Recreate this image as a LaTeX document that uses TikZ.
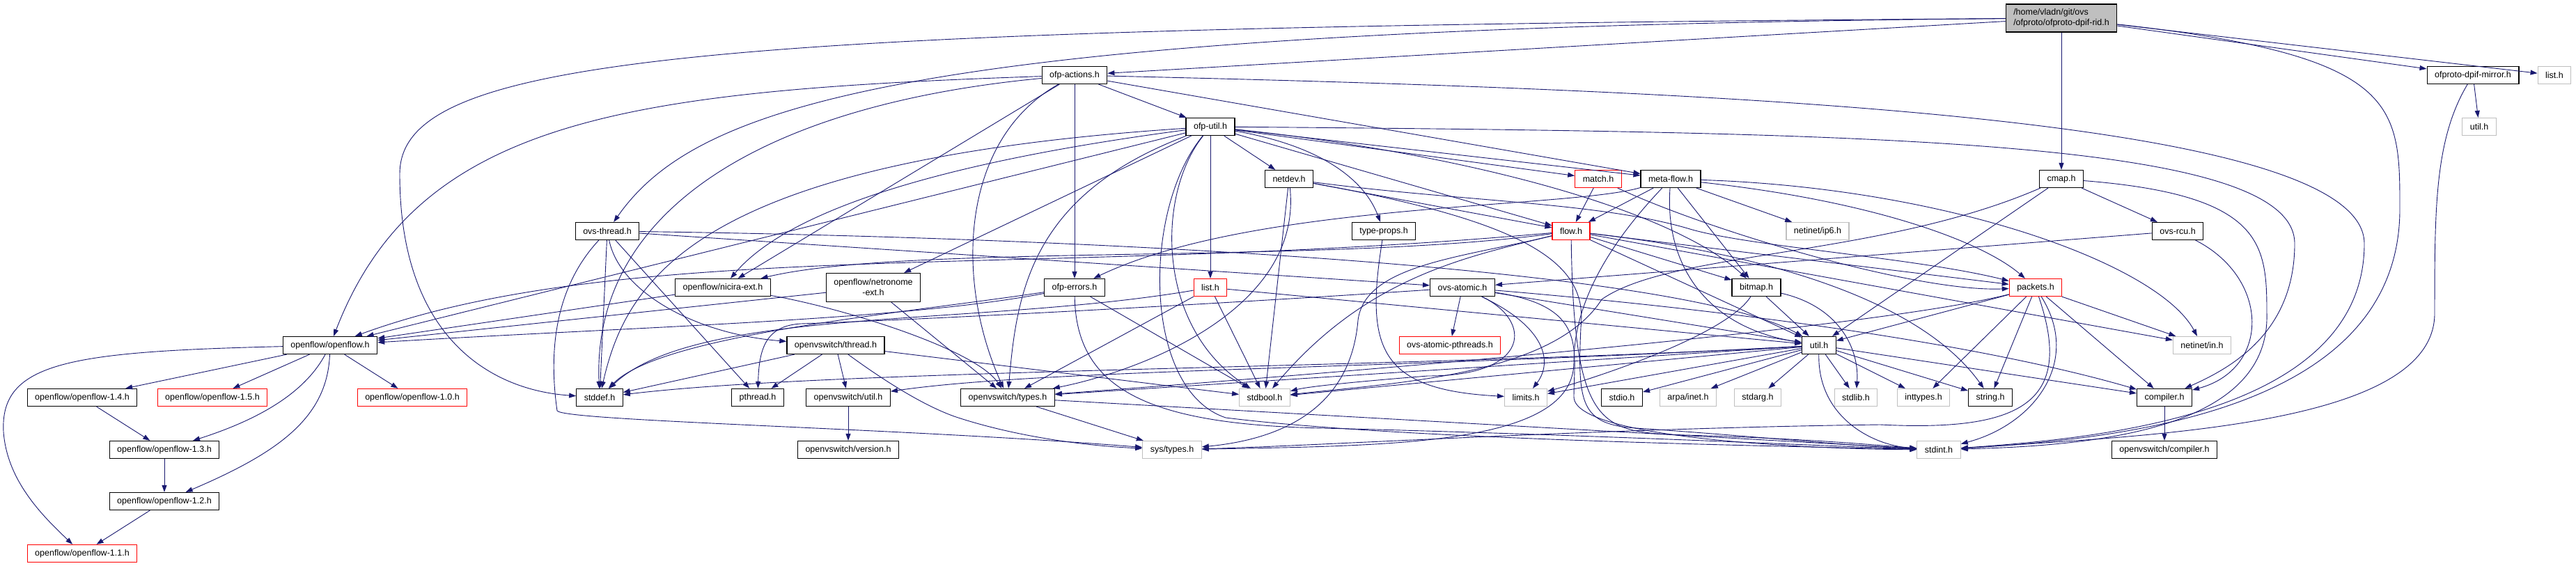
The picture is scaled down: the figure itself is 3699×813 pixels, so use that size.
\documentclass[tikz,border=0pt]{standalone}
\usepackage{fontspec}
\setmainfont{Liberation Sans}
\usepackage{tikz}
\usepackage{xcolor}
\usetikzlibrary{arrows.meta}
\definecolor{incblue}{RGB}{25, 25, 112}
\definecolor{sysgray}{RGB}{191, 191, 191}

\begin{document}
\begin{tikzpicture}[
    x=1pt, y=-1pt,
    font=\fontsize{12.5}{15}\selectfont,
    hdr/.style={draw=#1, fill=white, line width=1.2pt, minimum height=25pt, inner xsep=11pt, inner ysep=1pt},
    hdr/.default=black,
    inc/.style={draw=incblue, line width=0.9pt, -{Triangle[length=10pt, width=7pt]}}
]

    \useasboundingbox (0,0) rectangle (3699,813);
    \fill[white] (0,0) rectangle (3699,813);

    % ==========================================
    % HEADERS (rows from top to bottom)
    % ==========================================
    % The file itself
    \node[hdr, fill=sysgray, align=left, minimum height=40pt] (rid) at (2960,26) {/home/vladn/git/ovs\\/ofproto/ofproto-dpif-rid.h};

    % Row 1
    \node[hdr] (ofp_act) at (1543,108) {ofp-actions.h};
    \node[hdr] (dpif_mirror) at (3551,108) {ofproto-dpif-mirror.h};
    \node[hdr=sysgray] (sys_list) at (3668,108) {list.h};

    % Row 2
    \node[hdr] (ofp_util) at (1738,182) {ofp-util.h};
    \node[hdr=sysgray] (sys_util) at (3560,182) {util.h};

    % Row 3
    \node[hdr] (netdev) at (1851,257) {netdev.h};
    \node[hdr=red] (match) at (2295,257) {match.h};
    \node[hdr] (meta_flow) at (2399,257) {meta-flow.h};
    \node[hdr] (cmap) at (2960,257) {cmap.h};

    % Row 4
    \node[hdr] (ovs_thread) at (872,332) {ovs-thread.h};
    \node[hdr] (type_props) at (1987,332) {type-props.h};
    \node[hdr=red] (flow) at (2256,332) {flow.h};
    \node[hdr=sysgray] (ip6) at (2610,332) {netinet/ip6.h};
    \node[hdr] (ovs_rcu) at (3127,332) {ovs-rcu.h};

    % Row 5
    \node[hdr] (nx_ext) at (1038,413) {openflow/nicira-ext.h};
    \node[hdr, align=center, minimum height=41pt] (ntr_ext) at (1254,413) {openflow/netronome\\-ext.h};
    \node[hdr] (ofp_err) at (1543,413) {ofp-errors.h};
    \node[hdr=red] (list) at (1738,413) {list.h};
    \node[hdr] (atomic) at (2100,413) {ovs-atomic.h};
    \node[hdr] (bitmap) at (2522,413) {bitmap.h};
    \node[hdr=red] (packets) at (2923,413) {packets.h};

    % Row 6
    \node[hdr] (of) at (474,496) {openflow/openflow.h};
    \node[hdr] (ovs_thr) at (1200,496) {openvswitch/thread.h};
    \node[hdr=red] (atomic_pth) at (2082,496) {ovs-atomic-pthreads.h};
    \node[hdr] (util) at (2612,496) {util.h};
    \node[hdr=sysgray] (in_h) at (3162,496) {netinet/in.h};

    % Row 7
    \node[hdr] (of_14) at (118,571) {openflow/openflow-1.4.h};
    \node[hdr=red] (of_15) at (305,571) {openflow/openflow-1.5.h};
    \node[hdr=red] (of_10) at (592,571) {openflow/openflow-1.0.h};
    \node[hdr] (stddef) at (861,571) {stddef.h};
    \node[hdr] (pthread) at (1088,571) {pthread.h};
    \node[hdr] (ovs_util) at (1218,571) {openvswitch/util.h};
    \node[hdr] (ovs_types) at (1447,571) {openvswitch/types.h};
    \node[hdr=sysgray] (stdbool) at (1816,571) {stdbool.h};
    \node[hdr=sysgray] (limits) at (2191,571) {limits.h};
    \node[hdr] (stdio) at (2329,571) {stdio.h};
    \node[hdr=sysgray] (arpa) at (2424,571) {arpa/inet.h};
    \node[hdr=sysgray] (stdarg) at (2524,571) {stdarg.h};
    \node[hdr=sysgray] (stdlib) at (2665,571) {stdlib.h};
    \node[hdr=sysgray] (inttypes) at (2762,571) {inttypes.h};
    \node[hdr] (string_h) at (2858,571) {string.h};
    \node[hdr] (compiler) at (3108,571) {compiler.h};

    % Row 8
    \node[hdr] (of_13) at (236,646) {openflow/openflow-1.3.h};
    \node[hdr] (ovs_ver) at (1218,646) {openvswitch/version.h};
    \node[hdr=sysgray] (sys_types) at (1683,646) {sys/types.h};
    \node[hdr=sysgray] (stdint) at (2784,646) {stdint.h};
    \node[hdr] (ovs_comp) at (3108,646) {openvswitch/compiler.h};

    % Rows 9 and 10
    \node[hdr] (of_12) at (236,720) {openflow/openflow-1.2.h};
    \node[hdr=red] (of_11) at (118,795) {openflow/openflow-1.1.h};


    % ==========================================
    % INCLUDES OF THE FILE ITSELF
    % ==========================================
    \draw[inc] (rid) -- (ofp_act);
    \draw[inc] (rid) .. controls (1300,40) and (1000,150) .. (ovs_thread);
    \draw[inc] (rid) .. controls (1000,40) and (574,80) .. (574,250) .. controls (574,480) and (700,560) .. (stddef);
    \draw[inc] (rid) -- (cmap);
    \draw[inc] (rid) -- (dpif_mirror);
    \draw[inc] (rid) -- (sys_list);
    \draw[inc] (rid) .. controls (3446,80) and (3446,150) .. (3446,300) .. controls (3446,590) and (3050,630) .. (stdint);

    % ofproto-dpif-mirror.h
    \draw[inc] (dpif_mirror) -- (sys_util);
    \draw[inc] (dpif_mirror) .. controls (3496,200) and (3496,300) .. (3496,450) .. controls (3496,610) and (3100,625) .. (stdint);


    % ==========================================
    % OFP-ACTIONS.H AND OFP-UTIL.H
    % ==========================================
    \draw[inc] (ofp_act) -- (ofp_util);
    \draw[inc] (ofp_act) -- (ofp_err);
    \draw[inc] (ofp_act) -- (nx_ext);
    \draw[inc] (ofp_act) -- (meta_flow);
    \draw[inc] (ofp_act) .. controls (900,130) and (600,170) .. (of);
    \draw[inc] (ofp_act) .. controls (1100,150) and (850,300) .. (stddef);
    \draw[inc] (ofp_act) .. controls (1380,200) and (1370,400) .. (ovs_types);
    \draw[inc] (ofp_act) .. controls (2500,130) and (3395,170) .. (3395,350) .. controls (3395,600) and (3000,630) .. (stdint);

    \draw[inc] (ofp_util) -- (netdev);
    \draw[inc] (ofp_util) -- (match);
    \draw[inc] (ofp_util) -- (meta_flow);
    \draw[inc] (ofp_util) -- (flow);
    \draw[inc] (ofp_util) -- (list);
    \draw[inc] (ofp_util) -- (ntr_ext);
    \draw[inc] (ofp_util) -- (of);
    \draw[inc] (ofp_util) .. controls (1900,210) and (1960,260) .. (type_props);
    \draw[inc] (ofp_util) .. controls (2100,220) and (2400,300) .. (bitmap);
    \draw[inc] (ofp_util) .. controls (2700,190) and (3295,200) .. (3295,350) .. controls (3295,480) and (3200,530) .. (compiler);
    \draw[inc] (ofp_util) .. controls (1000,230) and (900,400) .. (stddef);
    \draw[inc] (ofp_util) .. controls (1450,220) and (1150,280) .. (nx_ext);
    \draw[inc] (ofp_util) .. controls (1480,280) and (1460,420) .. (ovs_types);
    \draw[inc] (ofp_util) .. controls (1660,280) and (1660,470) .. (stdbool);
    \draw[inc] (ofp_util) .. controls (1640,300) and (1640,560) .. (1760,600) .. controls (2000,630) and (2500,640) .. (stdint);


    % ==========================================
    % NETDEV.H, MATCH.H, META-FLOW.H
    % ==========================================
    \draw[inc] (netdev) -- (flow);
    \draw[inc] (netdev) -- (stdbool);
    \draw[inc] (netdev) .. controls (2100,290) and (2300,290) .. (2430,330) .. controls (2520,355) and (2750,370) .. (packets);
    \draw[inc] (netdev) .. controls (1870,440) and (1650,530) .. (ovs_types);
    \draw[inc] (netdev) .. controls (2200,320) and (2280,380) .. (2270,470) .. controls (2265,580) and (2270,610) .. (2350,615) .. controls (2500,625) and (2650,640) .. (stdint);

    \draw[inc] (match) -- (flow);
    \draw[inc] (match) .. controls (2450,330) and (2750,420) .. (packets);

    \draw[inc] (meta_flow) -- (flow);
    \draw[inc] (meta_flow) -- (ip6);
    \draw[inc] (meta_flow) -- (bitmap);
    \draw[inc] (meta_flow) .. controls (2250,300) and (1800,290) .. (ofp_err);
    \draw[inc] (meta_flow) .. controls (2390,380) and (2450,470) .. (util);
    \draw[inc] (meta_flow) .. controls (2700,290) and (2850,350) .. (packets);
    \draw[inc] (meta_flow) .. controls (2800,270) and (3100,380) .. (in_h);
    \draw[inc] (meta_flow) .. controls (2330,330) and (2260,420) .. (2260,520) .. controls (2260,640) and (2000,640) .. (sys_types);


    % ==========================================
    % FLOW.H AND TYPE-PROPS.H
    % ==========================================
    \draw[inc] (flow) -- (bitmap);
    \draw[inc] (flow) -- (packets);
    \draw[inc] (flow) -- (in_h);
    \draw[inc] (flow) -- (util);
    \draw[inc] (flow) .. controls (1900,380) and (1300,350) .. (nx_ext);
    \draw[inc] (flow) .. controls (1500,400) and (900,340) .. (of);
    \draw[inc] (flow) .. controls (2100,370) and (1960,380) .. (1950,460) .. controls (1940,580) and (1850,630) .. (sys_types);
    \draw[inc] (flow) .. controls (2100,370) and (1960,400) .. (stdbool);
    \draw[inc] (flow) .. controls (2260,620) and (2300,620) .. (2420,625) .. controls (2600,630) and (2700,640) .. (stdint);
    \draw[inc] (flow) .. controls (2500,360) and (2750,420) .. (string_h);

    \draw[inc] (type_props) .. controls (1960,500) and (1980,560) .. (limits);


    % ==========================================
    % THREADS
    % ==========================================
    \draw[inc] (ovs_thread) -- (stddef);
    \draw[inc] (ovs_thread) -- (pthread);
    \draw[inc] (ovs_thread) -- (atomic);
    \draw[inc] (ovs_thread) .. controls (890,420) and (1000,480) .. (ovs_thr);
    \draw[inc] (ovs_thread) .. controls (1500,340) and (2400,380) .. (util);
    \draw[inc] (ovs_thread) .. controls (790,420) and (790,520) .. (800,590) .. controls (810,605) and (1300,615) .. (sys_types);

    \draw[inc] (ovs_thr) -- (stddef);
    \draw[inc] (ovs_thr) -- (pthread);
    \draw[inc] (ovs_thr) -- (ovs_util);
    \draw[inc] (ovs_thr) -- (stdbool);
    \draw[inc] (ovs_thr) .. controls (1260,540) and (1320,580) .. (1370,598) .. controls (1450,625) and (1550,640) .. (sys_types);


    % ==========================================
    % OPENFLOW EXTENSIONS, ERRORS, LISTS
    % ==========================================
    \draw[inc] (nx_ext) -- (of);
    \draw[inc] (nx_ext) .. controls (1200,440) and (1400,500) .. (ovs_types);
    \draw[inc] (ntr_ext) -- (of);
    \draw[inc] (ntr_ext) -- (ovs_types);

    \draw[inc] (ofp_err) .. controls (1300,460) and (900,470) .. (of);
    \draw[inc] (ofp_err) .. controls (1300,450) and (950,480) .. (stddef);
    \draw[inc] (ofp_err) -- (stdbool);
    \draw[inc] (ofp_err) .. controls (1545,560) and (1650,610) .. (1900,615) .. controls (2300,625) and (2600,640) .. (stdint);

    \draw[inc] (list) -- (stdbool);
    \draw[inc] (list) -- (util);
    \draw[inc] (list) -- (ovs_types);
    \draw[inc] (list) .. controls (1400,470) and (1000,440) .. (stddef);


    % ==========================================
    % OVS-ATOMIC.H, BITMAP.H
    % ==========================================
    \draw[inc] (atomic) -- (atomic_pth);
    \draw[inc] (atomic) -- (util);
    \draw[inc] (atomic) .. controls (1700,440) and (1300,460) .. (1150,465) .. controls (1100,468) and (1090,500) .. (pthread);
    \draw[inc] (atomic) .. controls (2200,460) and (2200,540) .. (2050,540) .. controls (1950,548) and (1880,555) .. (stdbool);
    \draw[inc] (atomic) .. controls (2220,470) and (2230,520) .. (limits);
    \draw[inc] (atomic) .. controls (2600,455) and (2900,510) .. (compiler);
    \draw[inc] (atomic) .. controls (2280,440) and (2260,500) .. (2260,570) .. controls (2260,630) and (2600,645) .. (stdint);

    \draw[inc] (bitmap) -- (util);
    \draw[inc] (bitmap) .. controls (2640,440) and (2670,500) .. (stdlib);
    \draw[inc] (bitmap) .. controls (2480,480) and (2300,540) .. (limits);


    % ==========================================
    % UTIL.H AND PACKETS.H
    % ==========================================
    \draw[inc] (util) -- (limits);
    \draw[inc] (util) -- (stdio);
    \draw[inc] (util) -- (arpa);
    \draw[inc] (util) -- (stdarg);
    \draw[inc] (util) -- (stdlib);
    \draw[inc] (util) -- (inttypes);
    \draw[inc] (util) -- (string_h);
    \draw[inc] (util) -- (compiler);
    \draw[inc] (util) -- (stdbool);
    \draw[inc] (util) -- (ovs_types);
    \draw[inc] (util) .. controls (2000,530) and (1200,530) .. (stddef);
    \draw[inc] (util) .. controls (2000,530) and (1500,530) .. (ovs_util);
    \draw[inc] (util) .. controls (2610,600) and (2690,640) .. (stdint);

    \draw[inc] (packets) -- (inttypes);
    \draw[inc] (packets) -- (string_h);
    \draw[inc] (packets) -- (compiler);
    \draw[inc] (packets) -- (in_h);
    \draw[inc] (packets) -- (util);
    \draw[inc] (packets) .. controls (2700,470) and (2000,530) .. (ovs_types);
    \draw[inc] (packets) .. controls (2990,520) and (2920,610) .. (stdint);
    \draw[inc] (packets) .. controls (2980,580) and (2900,620) .. (2700,610) .. controls (2300,615) and (1900,640) .. (sys_types);


    % ==========================================
    % CMAP.H, OVS-RCU.H
    % ==========================================
    \draw[inc] (cmap) -- (ovs_rcu);
    \draw[inc] (cmap) -- (util);
    \draw[inc] (cmap) .. controls (2700,370) and (2400,360) .. (2300,430) .. controls (2230,540) and (2000,550) .. (stdbool);
    \draw[inc] (cmap) .. controls (3250,280) and (3255,350) .. (3255,450) .. controls (3260,620) and (3000,640) .. (stdint);

    \draw[inc] (ovs_rcu) -- (atomic);
    \draw[inc] (ovs_rcu) .. controls (3260,400) and (3260,530) .. (compiler);


    % ==========================================
    % LEAF HEADERS
    % ==========================================
    \draw[inc] (compiler) -- (ovs_comp);
    \draw[inc] (ovs_types) -- (sys_types);
    \draw[inc] (ovs_types) -- (stdint);
    \draw[inc] (ovs_util) -- (ovs_ver);

    % openflow versions
    \draw[inc] (of) -- (of_14);
    \draw[inc] (of) -- (of_15);
    \draw[inc] (of) -- (of_10);
    \draw[inc] (of) .. controls (440,560) and (380,600) .. (of_13);
    \draw[inc] (of) .. controls (470,600) and (400,650) .. (of_12);
    \draw[inc] (of) .. controls (100,505) and (0,520) .. (5,620) .. controls (10,690) and (60,740) .. (of_11);
    \draw[inc] (of_14) -- (of_13);
    \draw[inc] (of_13) -- (of_12);
    \draw[inc] (of_12) -- (of_11);

\end{tikzpicture}
\end{document}
